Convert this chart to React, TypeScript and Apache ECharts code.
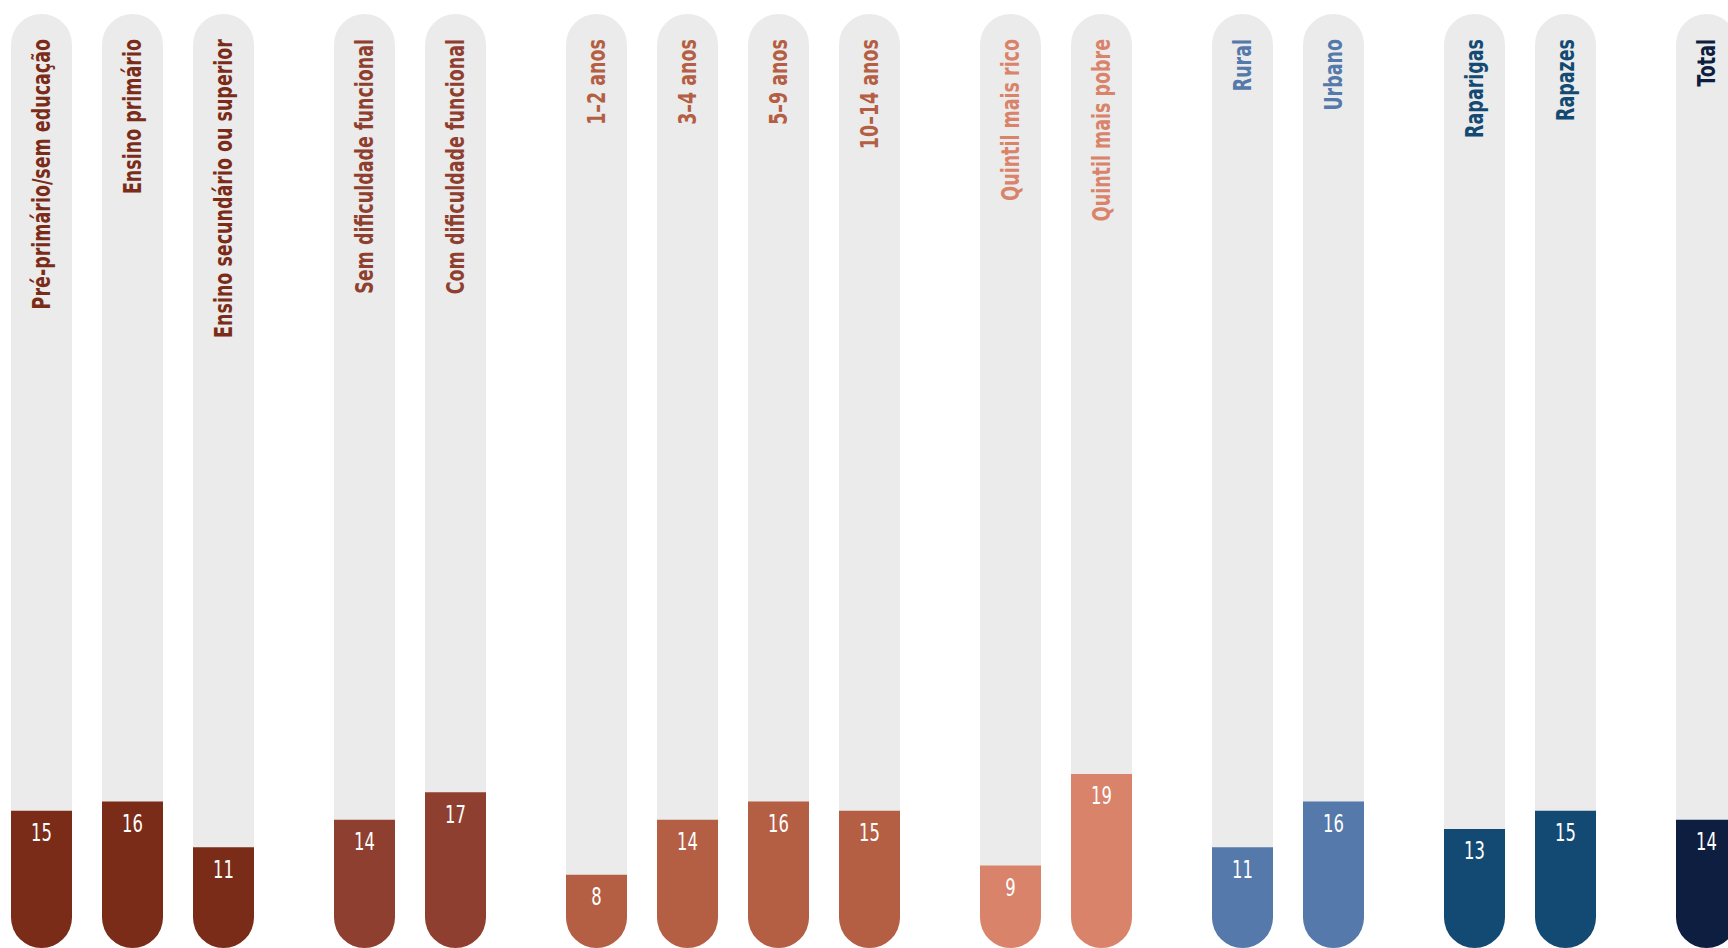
import React, { useEffect, useRef } from "react";
import * as echarts from "echarts";

// ---- data ----
const categories = [
  "Pré-primário/sem educação",
  "Ensino primário",
  "Ensino secundário ou superior",
  "Sem dificuldade funcional",
  "Com dificuldade funcional",
  "1–2 anos",
  "3–4 anos",
  "5–9 anos",
  "10–14 anos",
  "Quintil mais rico",
  "Quintil mais pobre",
  "Rural",
  "Urbano",
  "Raparigas",
  "Rapazes",
  "Total",
];
const values = [15, 16, 11, 14, 17, 8, 14, 16, 15, 9, 19, 11, 16, 13, 15, 14];
const groupOf = [0, 0, 0, 1, 1, 2, 2, 2, 2, 3, 3, 4, 4, 5, 5, 6];
const groupColors = ["#7B2C19", "#8F3F2F", "#B45E43", "#D9836A", "#5479AA", "#134A74", "#0E1E40"];

// ---- layout ----
const W = 1728;
const H = 948;
const Y_MAX = 102;
const PITCH = 91;
const GROUP_GAP = 50 / PITCH; // extra space between groups, in bar pitches
const OFFSET = 41.5;
const TRACK = "#EBEBEB";
const FONT = '"Liberation Sans Narrow", "DejaVu Sans Condensed", "Roboto", sans-serif';
const NAME_SCALE = 0.81;
const VALUE_SCALE = 0.76;

export default function App() {
  const ref = useRef<HTMLDivElement>(null);
  useEffect(() => {
    if (!ref.current) return;
    const chart = echarts.init(ref.current, null, { renderer: "svg" });
    const pos = categories.map((_, i) => i + groupOf[i] * GROUP_GAP);
    const bg = categories.map((name, i) => ({ name, value: [pos[i], Y_MAX] }));
    const fill = categories.map((name, i) => ({
      name,
      value: [pos[i], values[i]],
      itemStyle: { color: groupColors[groupOf[i]] },
    }));
    chart.setOption({
      animation: false,
      grid: { left: 0, right: 0, top: 14, bottom: 0 },
      xAxis: {
        type: "value",
        min: -OFFSET / PITCH,
        max: (W - OFFSET) / PITCH,
        show: false,
      },
      yAxis: { type: "value", min: 0, max: Y_MAX, show: false },
      series: [
        {
          type: "bar",
          data: bg,
          barWidth: 61,
          barGap: "-100%",
          itemStyle: { color: TRACK, borderRadius: 30.5 },
          silent: true,
        },
        {
          type: "bar",
          data: fill,
          barWidth: 61,
          barGap: "-100%",
          itemStyle: { borderRadius: [0, 0, 30.5, 30.5] },
          silent: true,
        },
      ],
    });

    // texts placed through the chart's own scales
    const texts: any[] = [];
    categories.forEach((name, i) => {
      const top = chart.convertToPixel({ xAxisIndex: 0, yAxisIndex: 0 }, [pos[i], Y_MAX]) as number[];
      const vTop = chart.convertToPixel({ xAxisIndex: 0, yAxisIndex: 0 }, [pos[i], values[i]]) as number[];
      texts.push({
        type: "text",
        x: top[0],
        y: top[1] + 25,
        rotation: Math.PI / 2,
        scaleX: NAME_SCALE,
        silent: true,
        z: 10,
        style: {
          text: name,
          fill: groupColors[groupOf[i]],
          font: `bold 24px ${FONT}`,
          align: "right",
          textAlign: "right",
          verticalAlign: "middle",
          textVerticalAlign: "middle",
        },
      });
      texts.push({
        type: "text",
        x: vTop[0],
        y: vTop[1] + 10,
        scaleX: VALUE_SCALE,
        silent: true,
        z: 10,
        style: {
          text: String(values[i]),
          fill: "#FFFFFF",
          font: `24px ${FONT}`,
          align: "center",
          textAlign: "center",
          verticalAlign: "top",
          textVerticalAlign: "top",
        },
      });
    });
    chart.setOption({ graphic: { elements: texts } });
    return () => chart.dispose();
  }, []);
  return (
    <div
      ref={ref}
      style={{ position: "fixed", left: 0, top: 0, width: W, height: H, background: "#FFFFFF" }}
    />
  );
}
